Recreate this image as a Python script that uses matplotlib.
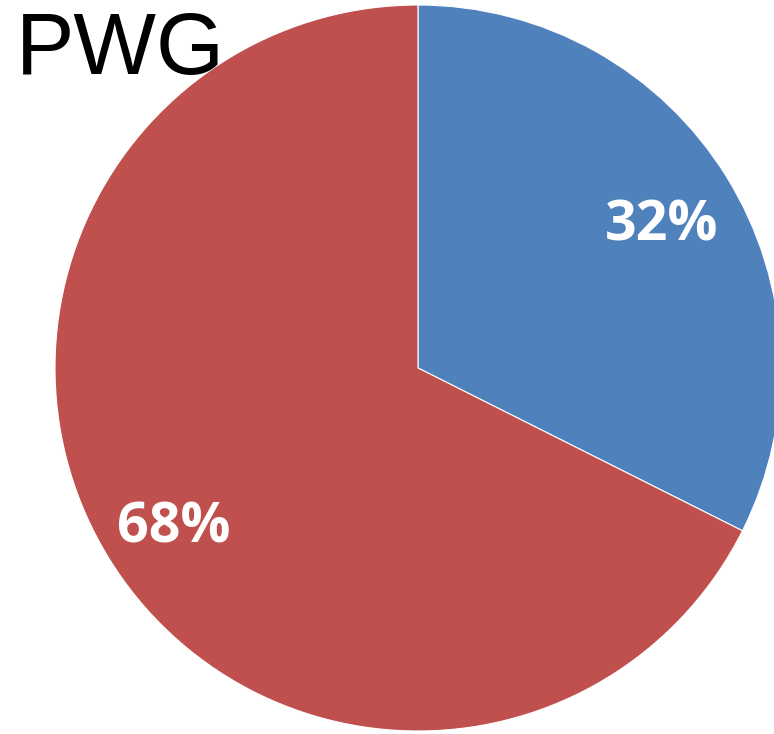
import matplotlib.pyplot as plt

labels = ["A", "B"]
values = [32.4, 67.6]
colors = ["#4F81BD", "#C0504D"]
title = "PWG"

fig = plt.figure(figsize=(7.74, 7.34), dpi=100)
ax = fig.add_axes([0, 0, 1, 1])

wedges, texts, autotexts = ax.pie(
    values, colors=colors, startangle=90, counterclock=False,
    autopct="%1.0f%%", pctdistance=0.79,
    wedgeprops=dict(linewidth=0.8, edgecolor="white"),
    textprops=dict(color="white", fontsize=40, fontweight="bold", family="Open Sans"),
)
# nudge labels slightly down
for t in autotexts:
    x, y = t.get_position()
    t.set_position((x, y - 0.025))

# pie centre at pixel (418, 368), radius 363 px
ax.set_xlim(-418 / 363, (774 - 418) / 363)
ax.set_ylim(-(734 - 368) / 363, 368 / 363)
ax.set_aspect("auto")
ax.axis("off")

fig.text(0.02, 0.985, title, fontsize=63, family="Liberation Sans", va="top", ha="left")

fig.savefig("out.png", dpi=100)
